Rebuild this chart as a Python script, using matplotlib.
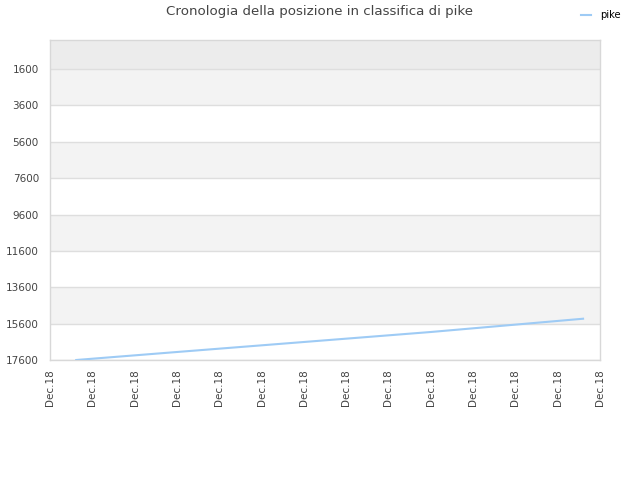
#!/usr/bin/env python3
"""Rank history chart for pike."""

import matplotlib
matplotlib.use("Agg")
import matplotlib.pyplot as plt

# data (x in tick units, rank on y)
time_pos = [0.62, 3.0, 6.0, 9.0, 12.6]
rank = [17600, 17160, 16610, 16060, 15330]
series_name = "pike"

x_ticks = list(range(14))
x_labels = ["Dec.18"] * 14
y_ticks = [1600, 3600, 5600, 7600, 9600, 11600, 13600, 15600, 17600]

title = "Cronologia della posizione in classifica di pike"

fig = plt.figure(figsize=(6.4, 4.8), dpi=100)
ax = fig.add_axes([50 / 640, 1 - 360 / 480, 550 / 640, 320 / 480])

ax.set_ylim(17600, 0)
ax.set_xlim(0, 13)

# alternating background bands
bands = [(0, 1600, "#ececec"), (1600, 3600, "#f3f3f3"), (5600, 7600, "#f3f3f3"),
         (9600, 11600, "#f3f3f3"), (13600, 15600, "#f3f3f3")]
for lo, hi, col in bands:
    ax.axhspan(lo, hi, color=col, zorder=0, lw=0)

for y in y_ticks:
    ax.axhline(y, color="#dedede", lw=1, zorder=1)

ax.plot(time_pos, rank, color="#9ecbf5", lw=1.5, zorder=3, label=series_name)

ax.set_xticks(x_ticks)
ax.set_xticklabels(x_labels, rotation=90, fontsize=7.5, color="#444444")
ax.set_yticks(y_ticks)
ax.set_yticklabels([str(v) for v in y_ticks], fontsize=7.5, color="#444444")
ax.tick_params(axis="x", length=0, pad=7)
ax.tick_params(axis="y", length=0, pad=8)

for side in ax.spines.values():
    side.set_color("#d8d8d8")
    side.set_linewidth(1)

fig.text(319 / 640, 1 - 12 / 480, title, ha="center", va="center", fontsize=9.6, color="#444444")

fig.legend(loc="center left", bbox_to_anchor=(577 / 640, 1 - 15 / 480), frameon=False,
           fontsize=7.2, handlelength=1.0, handletextpad=0.9, borderaxespad=0.0)

fig.savefig("out.png", dpi=100)
